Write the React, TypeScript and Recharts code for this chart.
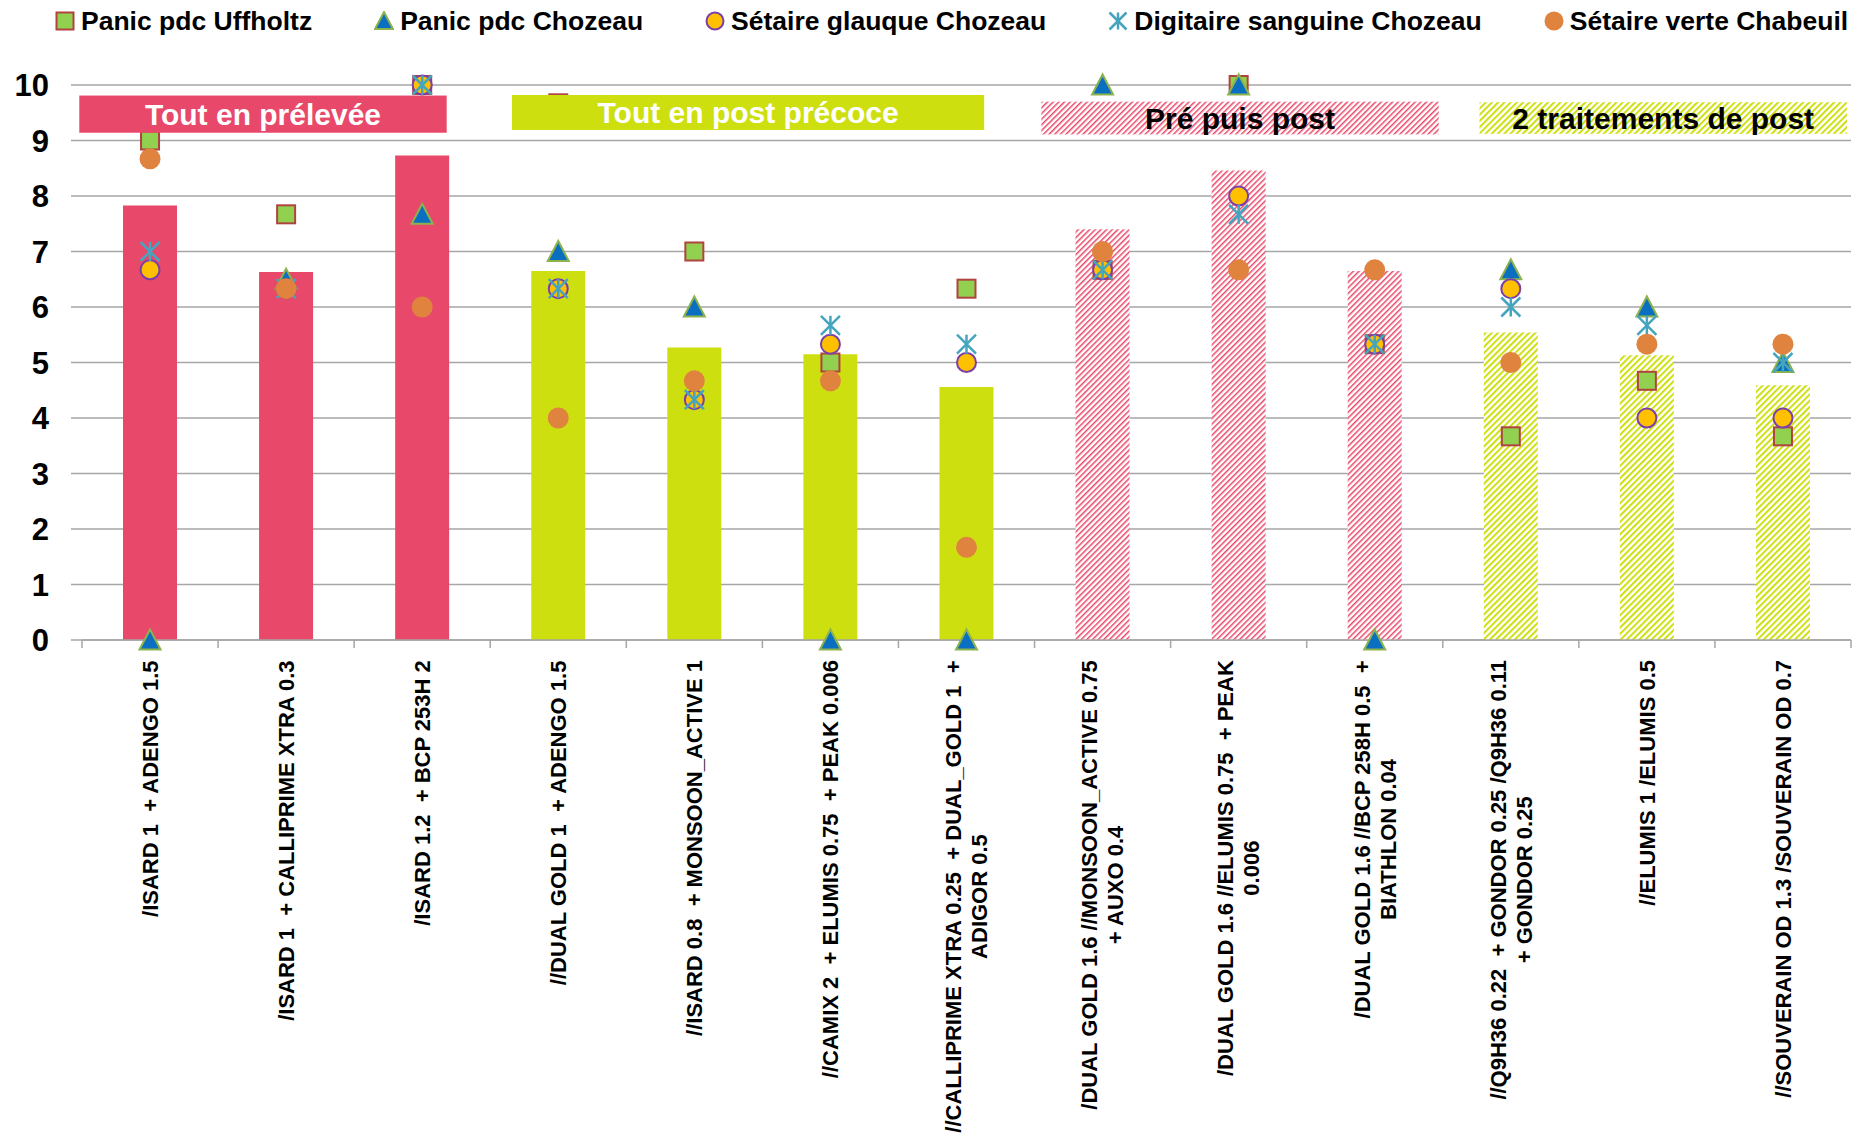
import React from 'react';
import {
  ComposedChart,
  Bar,
  Line,
  XAxis,
  YAxis,
  CartesianGrid,
  ReferenceLine,
  ReferenceArea,
  Cell,
} from 'recharts';

// ---------------- data ----------------
const categories = [
  '/ISARD 1  + ADENGO 1.5',
  '/ISARD 1  + CALLIPRIME XTRA 0.3',
  '/ISARD 1.2  + BCP 253H 2',
  '//DUAL GOLD 1  + ADENGO 1.5',
  '//ISARD 0.8  + MONSOON_ACTIVE 1',
  '//CAMIX 2  + ELUMIS 0.75  + PEAK 0.006',
  '//CALLIPRIME XTRA 0.25  + DUAL_GOLD 1  +\nADIGOR 0.5',
  '/DUAL GOLD 1.6 //MONSOON_ACTIVE 0.75\n+ AUXO 0.4',
  '/DUAL GOLD 1.6 //ELUMIS 0.75  + PEAK\n0.006',
  '/DUAL GOLD 1.6 //BCP 258H 0.5  +\nBIATHLON 0.04',
  '//Q9H36 0.22  + GONDOR 0.25 /Q9H36 0.11\n+ GONDOR 0.25',
  '//ELUMIS 1 /ELUMIS 0.5',
  '//SOUVERAIN OD 1.3 /SOUVERAIN OD 0.7',
];
const groups = ['pre', 'pre', 'pre', 'post', 'post', 'post', 'post', 'prepost', 'prepost', 'prepost', 'two', 'two', 'two'];
const barValues = [7.83, 6.63, 8.73, 6.65, 5.27, 5.15, 4.56, 7.4, 8.46, 6.65, 5.54, 5.13, 4.59];
const panicUffholtz = [9, 7.67, 10, 9.67, 7, 5, 6.33, 6.67, 10, 5.33, 3.67, 4.67, 3.67];
const panicChozeau = [0, 6.5, 7.67, 7, 6, 0, 0, 10, 10, 0, 6.67, 6, 5];
const setaireGlauque = [6.67, 6.33, 10, 6.33, 4.33, 5.33, 5, 6.67, 8, 5.33, 6.33, 4, 4];
const digitaireSanguine = [7, 6.33, 10, 6.33, 4.33, 5.67, 5.33, 6.67, 7.67, 5.33, 6, 5.67, 5];
const setaireVerte = [8.67, 6.33, 6, 4, 4.67, 4.67, 1.67, 7, 6.67, 6.67, 5, 5.33, 5.33];
const yTicks = [0, 1, 2, 3, 4, 5, 6, 7, 8, 9, 10];
const threshold = 7;
const seriesNames = [
  'Panic pdc Uffholtz',
  'Panic pdc Chozeau',
  'Sétaire glauque Chozeau',
  'Digitaire sanguine Chozeau',
  'Sétaire verte Chabeuil',
];
const groupLabels = ['Tout en prélevée', 'Tout en post précoce', 'Pré puis post', '2 traitements de post'];

// ---------------- layout / style ----------------
const W = 1868;
const H = 1136;
const MARGIN = { top: 85, right: 17, left: 0, bottom: 0 };
const Y_W = 82;
const X_H = 496;
const PLOT_W = W - MARGIN.right - Y_W;
const HALF_BAND = PLOT_W / categories.length / 2;
const TICK_SIZE = 8;
const TICK_MARGIN = 12;
const X_FONT = 22;
const LINE_H = 26;
const FONT = '"Liberation Sans", Arial, Helvetica, sans-serif';
const GRID = '#A6A6A6';

const RED = '#E8486A';
const LIME = '#CEDF10';

const groupFill: Record<string, string> = {
  pre: RED,
  post: LIME,
  prepost: 'url(#hatchRed)',
  two: 'url(#hatchLime)',
};

// annotation boxes: horizontal extent in category-slot units, vertical in value units
const boxLayout = [
  { x1: -0.02, x2: 2.68, y1: 9.14, y2: 9.81, fill: RED, color: '#ffffff' },
  { x1: 3.16, x2: 6.63, y1: 9.19, y2: 9.82, fill: LIME, color: '#ffffff' },
  { x1: 7.05, x2: 9.97, y1: 9.11, y2: 9.7, fill: 'url(#hatchRed)', color: '#000000' },
  { x1: 10.27, x2: 12.97, y1: 9.12, y2: 9.69, fill: 'url(#hatchLime)', color: '#000000' },
];

const data = categories.map((name, i) => ({
  name,
  group: groups[i],
  avg: barValues[i],
  uff: panicUffholtz[i],
  choz: panicChozeau[i],
  glauque: setaireGlauque[i],
  digit: digitaireSanguine[i],
  verte: setaireVerte[i],
}));

// ---------------- marker shapes ----------------
const SquareMark = ({ cx, cy, s = 18 }: any) => (
  <rect x={cx - s / 2} y={cy - s / 2} width={s} height={s} fill="#92D050" stroke="#B0433F" strokeWidth={2} />
);
const TriangleMark = ({ cx, cy, s = 21 }: any) => (
  <polygon
    points={`${cx},${cy - s / 2} ${cx + s / 2},${cy + s / 2 - 1} ${cx - s / 2},${cy + s / 2 - 1}`}
    fill="#0A6FC0"
    stroke="#8DB24C"
    strokeWidth={2}
    strokeLinejoin="miter"
  />
);
const GoldCircle = ({ cx, cy, r = 9.5 }: any) => (
  <circle cx={cx} cy={cy} r={r} fill="#FFC000" stroke="#7A3FA8" strokeWidth={2} />
);
const StarMark = ({ cx, cy, s = 19 }: any) => {
  const h = s / 2;
  return (
    <g stroke="#45A5BE" strokeWidth={2.5} strokeLinecap="butt">
      <line x1={cx} y1={cy - h} x2={cx} y2={cy + h} />
      <line x1={cx - h} y1={cy - h} x2={cx + h} y2={cy + h} />
      <line x1={cx + h} y1={cy - h} x2={cx - h} y2={cy + h} />
    </g>
  );
};
const OrangeCircle = ({ cx, cy, r = 10.5 }: any) => <circle cx={cx} cy={cy} r={r} fill="#E0833E" />;

const markers = [SquareMark, TriangleMark, GoldCircle, StarMark, OrangeCircle];
const seriesKeys = ['uff', 'choz', 'glauque', 'digit', 'verte'];

const makeDot = (Comp: any, key: string) => (p: any) => {
  if (p.cx == null || p.cy == null || p.value == null) return <g key={`${key}-${p.index}`} />;
  return (
    <g key={`${key}-${p.index}`}>
      <Comp cx={p.cx} cy={p.cy} />
    </g>
  );
};

// ---------------- text measuring ----------------
let measureCtx: CanvasRenderingContext2D | null = null;
const textWidth = (s: string, font: string) => {
  if (!measureCtx && typeof document !== 'undefined') {
    measureCtx = document.createElement('canvas').getContext('2d');
  }
  if (!measureCtx) return s.length * 12;
  measureCtx.font = font;
  return measureCtx.measureText(s).width;
};

const XTick = (props: any) => {
  const { x, y, payload, index } = props;
  const lines = String(payload.value).split('\n');
  const font = `bold ${X_FONT}px ${FONT}`;
  const maxW = Math.max(...lines.map((l) => textWidth(l, font)));
  const axisY = y - TICK_SIZE - TICK_MARGIN;
  const cy = y + maxW / 2;
  return (
    <g>
      <line x1={x - HALF_BAND} x2={x - HALF_BAND} y1={axisY} y2={axisY + TICK_SIZE} stroke={GRID} strokeWidth={1.5} />
      {index === categories.length - 1 && (
        <line x1={x + HALF_BAND} x2={x + HALF_BAND} y1={axisY} y2={axisY + TICK_SIZE} stroke={GRID} strokeWidth={1.5} />
      )}
      {lines.map((l, i) => (
        <text
          key={i}
          transform={`translate(${x + (i - (lines.length - 1) / 2) * LINE_H},${cy}) rotate(-90)`}
          textAnchor="middle"
          dy="0.355em"
          fontFamily={FONT}
          fontWeight="bold"
          fontSize={X_FONT}
          fill="#000"
          style={{ whiteSpace: 'pre' }}
        >
          {l}
        </text>
      ))}
    </g>
  );
};

// ReferenceArea spanning the whole x range; the box is placed inside it by category-slot fraction
const makeBoxShape = (b: any, label: string) => (p: any) => {
  const n = categories.length;
  const rx = p.x + (b.x1 / n) * p.width;
  const rw = ((b.x2 - b.x1) / n) * p.width;
  return (
    <g>
      <rect x={rx} y={p.y} width={rw} height={p.height} fill={b.fill} />
      <text
        x={rx + rw / 2}
        y={p.y + p.height / 2}
        dy="0.355em"
        textAnchor="middle"
        fontFamily={FONT}
        fontWeight="bold"
        fontSize={30}
        fill={b.color}
      >
        {label}
      </text>
    </g>
  );
};

const LegendIcon = ({ i }: { i: number }) => {
  const Comp = markers[i];
  const props: any = { cx: 10, cy: 10 };
  if (i === 0) props.s = 17;
  if (i === 1) props.s = 18;
  if (i === 2) props.r = 8.5;
  if (i === 3) props.s = 17;
  if (i === 4) props.r = 9.5;
  return (
    <svg width={20} height={20} style={{ display: 'block' }}>
      <Comp {...props} />
    </svg>
  );
};

export default function App() {
  return (
    <div style={{ position: 'absolute', left: 0, top: 0, width: W, height: H, background: '#fff' }}>
      <ComposedChart width={W} height={H} data={data} margin={MARGIN} barCategoryGap="30.3%">
        <defs>
          <pattern id="hatchRed" patternUnits="userSpaceOnUse" width="4" height="4" patternTransform="rotate(45)">
            <rect width="4" height="4" fill="#ffffff" />
            <rect width="1.5" height="4" fill={RED} />
          </pattern>
          <pattern id="hatchLime" patternUnits="userSpaceOnUse" width="4.4" height="4.4" patternTransform="rotate(45)">
            <rect width="4.4" height="4.4" fill="#ffffff" />
            <rect width="2" height="4.4" fill={LIME} />
          </pattern>
          <filter id="lineShadow" x="-5%" y="-200%" width="110%" height="500%">
            <feDropShadow dx="0" dy="2.5" stdDeviation="1.8" floodColor="#000" floodOpacity="0.3" />
          </filter>
        </defs>
        <CartesianGrid vertical={false} stroke={GRID} strokeWidth={1.5} />
        <XAxis
          dataKey="name"
          interval={0}
          height={X_H}
          tickLine={false}
          tickSize={TICK_SIZE}
          tickMargin={TICK_MARGIN}
          axisLine={{ stroke: GRID, strokeWidth: 1.5 }}
          tick={<XTick />}
        />
        <YAxis
          width={Y_W}
          domain={[0, 10]}
          ticks={yTicks}
          interval={0}
          axisLine={false}
          tickSize={11}
          tickMargin={22}
          tickLine={{ stroke: GRID, strokeWidth: 1.5 }}
          tick={{ fontSize: 31, fontWeight: 'bold', fill: '#000', fontFamily: FONT }}
        />
        <Bar dataKey="avg" barSize={54} isAnimationActive={false} zIndex={300}>
          {data.map((d, i) => (
            <Cell key={i} fill={groupFill[d.group]} />
          ))}
        </Bar>
        <ReferenceLine
          y={threshold}
          zIndex={350}
          shape={(p: any) => (
            <line
              x1={p.x1 - 3}
              y1={p.y1}
              x2={p.x2 + 12}
              y2={p.y2}
              stroke="#C2464B"
              strokeWidth={5}
              filter="url(#lineShadow)"
            />
          )}
        />
        {seriesKeys.map((k, i) => (
          <Line
            key={k}
            dataKey={k}
            name={seriesNames[i]}
            stroke="none"
            strokeWidth={0}
            dot={makeDot(markers[i], k)}
            activeDot={false}
            legendType="none"
            isAnimationActive={false}
          />
        ))}
        {boxLayout.map((b, i) => (
          <ReferenceArea
            key={i}
            y1={b.y1}
            y2={b.y2}
            ifOverflow="visible"
            zIndex={1500}
            shape={makeBoxShape(b, groupLabels[i])}
          />
        ))}
      </ComposedChart>
      <div
        style={{
          position: 'absolute',
          left: 55,
          top: 4,
          height: 34,
          display: 'flex',
          alignItems: 'center',
          gap: 62,
          fontFamily: FONT,
          fontWeight: 'bold',
          fontSize: 26.5,
          color: '#000',
          whiteSpace: 'nowrap',
        }}
      >
        {seriesNames.map((n, i) => (
          <div key={n} style={{ display: 'flex', alignItems: 'center', gap: 6 }}>
            <LegendIcon i={i} />
            <span>{n}</span>
          </div>
        ))}
      </div>
    </div>
  );
}
